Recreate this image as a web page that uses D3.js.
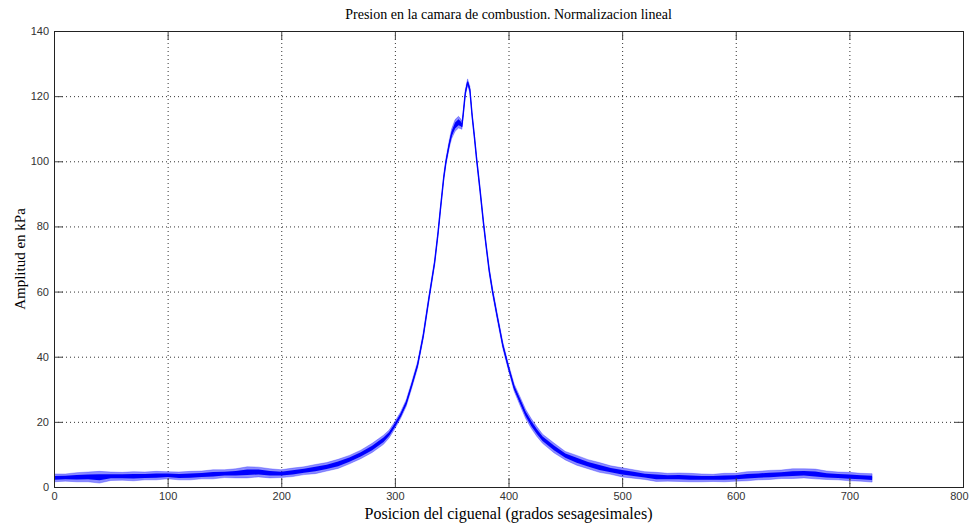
<!DOCTYPE html>
<html>
<head>
<meta charset="utf-8">
<script src="https://cdn.jsdelivr.net/npm/d3@7"></script>
<style>
  body { margin: 0; background: #fff; }
  #chart { width: 971px; height: 523px; }
</style>
</head>
<body>
<div id="chart"></div>
<script>
// Crank angle (degrees), pressure centre line (kPa) and noise half-width (kPa)
const angles = [0, 10, 20, 30, 40, 50, 60, 70, 80, 90, 100, 110, 120, 130, 140, 150, 160, 170, 180, 190,
    200, 210, 220, 230, 240, 250, 260, 270, 280, 290, 295, 300, 305, 310, 315, 320, 325, 330, 335, 338,
    340, 343, 345, 348, 350, 353, 356, 358, 359, 360, 362, 364, 366, 368, 370, 372, 375, 378, 380, 383,
    386, 390, 395, 400, 405, 410, 415, 420, 425, 430, 440, 450, 460, 470, 480, 490, 500, 510, 520, 530,
    540, 550, 560, 570, 580, 590, 600, 610, 620, 630, 640, 650, 660, 670, 680, 690, 700, 710, 720];
const pressure = [2.8, 2.9, 3.0, 3.1, 3.0, 3.3, 3.3, 3.3, 3.4, 3.5, 3.6, 3.4, 3.5, 3.7, 3.9, 4.1, 4.2, 4.5, 4.6, 4.2,
    4.1, 4.5, 5.0, 5.5, 6.2, 7.1, 8.4, 10.0, 12.0, 14.5, 16.3, 19.0, 22.0, 25.8, 31.5, 37.5, 46.5, 58.0, 69.0, 78.0,
    85.0, 95.0, 100.0, 105.5, 108.5, 111.0, 112.0, 111.5, 111.0, 114.0, 121.0, 124.3, 122.0, 114.0, 107.5, 100.5, 91.0, 81.0, 75.0, 66.5,
    60.0, 52.5, 43.5, 36.7, 30.5, 26.5, 22.5, 19.5, 17.0, 14.8, 12.0, 9.6, 8.2, 7.0, 6.0, 5.2, 4.5, 4.0, 3.5, 3.1,
    3.0, 3.0, 2.9, 2.8, 2.8, 2.9, 3.0, 3.3, 3.5, 3.7, 3.9, 4.1, 4.2, 4.0, 3.6, 3.4, 3.2, 3.0, 2.8];
const noise = [1.2, 1.1, 1.4, 1.5, 1.8, 1.3, 1.2, 1.4, 1.2, 1.3, 1.1, 1.2, 1.3, 1.2, 1.4, 1.2, 1.4, 1.7, 1.5, 1.4,
    1.2, 1.3, 1.2, 1.4, 1.3, 1.4, 1.3, 1.3, 1.4, 1.4, 1.2, 1.1, 1.0, 1.0, 1.0, 1.0, 1.0, 1.0, 1.0, 1.0,
    1.0, 1.0, 1.0, 1.2, 1.5, 1.8, 1.8, 1.5, 1.2, 1.0, 1.0, 1.0, 1.0, 1.0, 1.0, 1.0, 1.0, 1.0, 1.0, 1.0,
    1.0, 1.0, 1.0, 1.0, 1.1, 1.3, 1.4, 1.5, 1.5, 1.4, 1.5, 1.3, 1.5, 1.4, 1.5, 1.3, 1.4, 1.3, 1.2, 1.4,
    1.2, 1.3, 1.3, 1.2, 1.1, 1.3, 1.2, 1.4, 1.3, 1.4, 1.3, 1.5, 1.4, 1.5, 1.3, 1.2, 1.3, 1.2, 1.3];

const xTicks = [0, 100, 200, 300, 400, 500, 600, 700, 800];
const yTicks = [0, 20, 40, 60, 80, 100, 120, 140];

const title = "Presion en la camara de combustion. Normalizacion lineal";
const label1 = "Posicion del ciguenal (grados sesagesimales)";
const label2 = "Amplitud en kPa";

const margin = { top: 31, right: 8, bottom: 36, left: 54 };
const width = 971 - margin.left - margin.right;
const height = 523 - margin.top - margin.bottom;

const data = angles.map((a, i) => ({ x: a, y: pressure[i], n: noise[i] }));

const svg = d3.select("#chart")
    .append("svg")
    .attr("width", 971)
    .attr("height", 523)
    .append("g")
    .attr("transform", `translate(${margin.left}, ${margin.top})`);

const xScale = d3.scaleLinear().domain([0, 800]).range([0, width]);
const yScale = d3.scaleLinear().domain([0, 140]).range([height, 0]);

// Dotted grid
svg.append("g").selectAll("line")
    .data(xTicks.slice(1, -1))
    .enter().append("line")
    .attr("x1", d => xScale(d) + 0.5).attr("x2", d => xScale(d) + 0.5)
    .attr("y1", 0).attr("y2", height)
    .attr("stroke", "#333").attr("stroke-dasharray", "1,3");

svg.append("g").selectAll("line")
    .data(yTicks.slice(1, -1))
    .enter().append("line")
    .attr("y1", d => yScale(d) + 0.5).attr("y2", d => yScale(d) + 0.5)
    .attr("x1", 0).attr("x2", width)
    .attr("stroke", "#333").attr("stroke-dasharray", "1,3");

// Trace
svg.append("clipPath").attr("id", "plotClip")
    .append("rect").attr("width", width).attr("height", height);

const plot = svg.append("g").attr("clip-path", "url(#plotClip)");

const outerBand = d3.area()
    .x(d => xScale(d.x))
    .y0(d => yScale(d.y - d.n))
    .y1(d => yScale(d.y + d.n));

const innerBand = d3.area()
    .x(d => xScale(d.x))
    .y0(d => yScale(d.y - d.n * 0.5))
    .y1(d => yScale(d.y + d.n * 0.5));

const line = d3.line()
    .x(d => xScale(d.x))
    .y(d => yScale(d.y));

plot.append("path").datum(data)
    .attr("d", outerBand)
    .attr("fill", "#0000ff").attr("fill-opacity", 0.45)
    .attr("stroke", "#0000ff").attr("stroke-opacity", 0.35).attr("stroke-width", 0.8);

plot.append("path").datum(data)
    .attr("d", innerBand)
    .attr("fill", "#0000ff");

plot.append("path").datum(data)
    .attr("d", line)
    .attr("fill", "none")
    .attr("stroke", "#0000ff")
    .attr("stroke-width", 1.3);

// Axes, ticks pointing inward like MATLAB
const tickLen = 9;
svg.append("g")
    .attr("transform", `translate(0, ${height})`)
    .call(d3.axisBottom(xScale).tickValues(xTicks).tickSizeInner(-tickLen).tickSizeOuter(0).tickPadding(5));

svg.append("g")
    .call(d3.axisLeft(yScale).tickValues(yTicks).tickSizeInner(-tickLen).tickSizeOuter(0).tickPadding(5));

svg.append("g")
    .call(d3.axisTop(xScale).tickValues(xTicks).tickSizeInner(-tickLen).tickSizeOuter(0).tickFormat(""));

svg.append("g")
    .attr("transform", `translate(${width}, 0)`)
    .call(d3.axisRight(yScale).tickValues(yTicks).tickSizeInner(-tickLen).tickSizeOuter(0).tickFormat(""));

svg.selectAll(".domain").attr("stroke", "#222");
svg.selectAll(".tick line").attr("stroke", "#444");
svg.selectAll(".tick text")
    .attr("fill", "#333")
    .style("font-family", "Arial, 'Liberation Sans', sans-serif")
    .style("font-size", "11px");

// keep the last x label inside the window
svg.selectAll(".tick text")
    .filter(d => d === 800)
    .attr("text-anchor", "end")
    .attr("dx", 5);

// Box
svg.append("rect")
    .attr("x", 0.5).attr("y", 0.5)
    .attr("width", width).attr("height", height)
    .attr("fill", "none").attr("stroke", "#222");

// Labels
svg.append("text")
    .attr("x", width / 2)
    .attr("y", height + 32)
    .attr("text-anchor", "middle")
    .style("font-family", "'Times New Roman', 'Liberation Serif', serif")
    .style("font-size", "16px")
    .text(label1);

svg.append("text")
    .attr("transform", "rotate(-90)")
    .attr("x", -height / 2)
    .attr("y", -margin.left + 25)
    .attr("text-anchor", "middle")
    .style("font-family", "'Times New Roman', 'Liberation Serif', serif")
    .style("font-size", "15px")
    .text(label2);

svg.append("text")
    .attr("x", width / 2)
    .attr("y", -12)
    .attr("text-anchor", "middle")
    .style("font-family", "'Times New Roman', 'Liberation Serif', serif")
    .style("font-size", "14px")
    .text(title);
</script>
</body>
</html>
